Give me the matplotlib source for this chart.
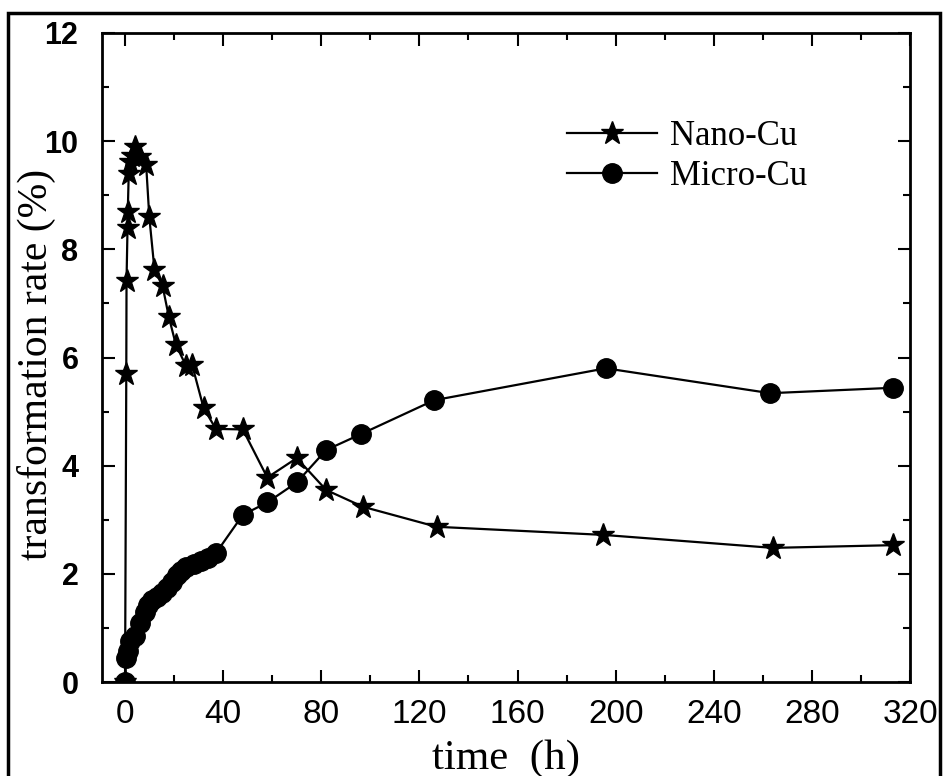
import numpy as np
import matplotlib.pyplot as plt
from matplotlib.patches import Rectangle
from matplotlib.ticker import MultipleLocator

# time (h) and transformation rate (%)
nano_t = [0, 0.5, 0.6, 1.0, 1.1, 1.5, 2.0, 3.0, 4.0, 6.0, 8.6, 9.9, 12.0, 15.3, 17.9,
          20.7, 24.9, 27.3, 32.0, 37.0, 48.0, 58.0, 70.0, 82.0, 97.0, 127.0, 195.0, 264.0, 313.0]
nano_rate = [0, 5.70, 7.42, 8.39, 8.69, 9.40, 9.62, 9.72, 9.90, 9.70, 9.56, 8.59, 7.62, 7.32, 6.74,
             6.24, 5.84, 5.87, 5.07, 4.68, 4.67, 3.78, 4.14, 3.55, 3.24, 2.87, 2.72, 2.48, 2.53]

micro_t = [0, 0.5, 1.0, 2.0, 4.0, 6.0, 8.0, 9.5, 11.0, 13.0, 15.0, 17.0, 19.0, 21.0,
           23.0, 25.0, 28.0, 31.0, 34.0, 37.0, 48.0, 58.0, 70.0, 82.0, 96.0, 126.0, 196.0, 263.0, 313.0]
micro_rate = [0, 0.45, 0.58, 0.75, 0.85, 1.10, 1.30, 1.42, 1.52, 1.58, 1.65, 1.74, 1.85, 1.97,
              2.05, 2.12, 2.18, 2.24, 2.30, 2.38, 3.09, 3.32, 3.69, 4.29, 4.58, 5.21, 5.80, 5.34, 5.44]

labels = ['Nano-Cu', 'Micro-Cu']
x_ticks = [0, 40, 80, 120, 160, 200, 240, 280, 320]
y_ticks = [0, 2, 4, 6, 8, 10, 12]

serif = ['Liberation Serif', 'DejaVu Serif']
sans = ['Liberation Sans', 'DejaVu Sans']

fig = plt.figure(figsize=(9.45, 7.76), dpi=100)
ax = fig.add_axes([102 / 945, 1 - 682 / 776, 808 / 945, 649 / 776])

ax.plot(nano_t, nano_rate, color='black', lw=1.6, marker='*', ms=17, label=labels[0])
ax.plot(micro_t, micro_rate, color='black', lw=1.6, marker='o', ms=14, label=labels[1])

ax.set_xlim(-9.4, 320)
ax.set_ylim(0, 12)
ax.set_xticks(x_ticks)
ax.set_yticks(y_ticks)
ax.xaxis.set_minor_locator(MultipleLocator(20))
ax.yaxis.set_minor_locator(MultipleLocator(1))
ax.tick_params(which='both', direction='in', top=True, right=True, width=1.5, color='black')
ax.tick_params(which='major', length=9)
ax.tick_params(which='minor', length=5)
ax.tick_params(axis='x', pad=12)
ax.tick_params(axis='y', pad=17)
for lab in ax.get_xticklabels():
    lab.set_fontfamily(sans)
    lab.set_fontsize(24)
for lab in ax.get_yticklabels():
    lab.set_fontfamily(sans)
    lab.set_fontsize(22)
    lab.set_fontweight('bold')

for sp in ax.spines.values():
    sp.set_linewidth(2)

ax.set_xlabel('time  (h)', fontfamily=serif, fontsize=31)
ax.set_ylabel('transformation rate (%)', fontfamily=serif, fontsize=30)
ax.xaxis.set_label_coords(0.5, -0.088)
ax.yaxis.set_label_coords(-0.057, 0.49)

ax.legend(loc='upper left', bbox_to_anchor=(0.575, 0.866), frameon=False,
          borderpad=0, borderaxespad=0, handlelength=2.6, handletextpad=0.37,
          labelspacing=0.2, prop={'family': serif, 'size': 25})

# black frame round the whole picture
fig.add_artist(Rectangle((8 / 945, -0.05), 932 / 945, 1.05 - 13 / 776,
                         transform=fig.transFigure, fill=False, lw=2.5,
                         edgecolor='black', clip_on=False))

fig.savefig('out.png', dpi=100, facecolor='white')
